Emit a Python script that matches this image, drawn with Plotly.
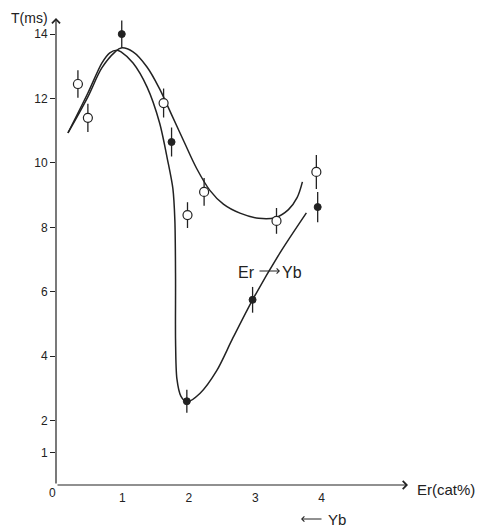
import plotly.graph_objects as go

# ---- data ----
# measured points (open circles)
open_x = [0.33, 0.48, 1.62, 1.98, 2.23, 3.32, 3.92]
open_y = [12.45, 11.4, 11.86, 8.38, 9.1, 8.2, 9.72]
open_err = [0.43, 0.44, 0.45, 0.4, 0.43, 0.4, 0.53]

# measured points (filled circles)
fill_x = [0.99, 1.74, 1.97, 2.96, 3.94]
fill_y = [14.0, 10.65, 2.6, 5.75, 8.63]
fill_err = [0.42, 0.45, 0.36, 0.4, 0.47]

# hand-drawn fit curve through the open circles
fitA_x = [0.18, 0.48, 0.69, 0.89, 0.98, 1.16, 1.37, 1.56, 1.74, 1.93, 2.12, 2.32,
          2.52, 2.77, 3.05, 3.3, 3.5, 3.63, 3.71]
fitA_y = [10.93, 12.05, 12.95, 13.45, 13.57, 13.45, 12.98, 12.3, 11.5, 10.65, 9.82, 9.14,
          8.72, 8.44, 8.28, 8.3, 8.55, 8.92, 9.41]

# hand-drawn fit curve through the filled circles
fitB_x = [0.18, 0.48, 0.69, 0.81, 0.92, 0.98, 1.16, 1.37, 1.56, 1.68, 1.76, 1.79,
          1.80, 1.80, 1.82, 1.88, 1.97, 2.17, 2.42, 2.66, 2.96, 3.37, 3.77]
fitB_y = [10.93, 12.17, 13.1, 13.42, 13.5, 13.45, 13.1, 12.36, 11.24, 10.09, 9.2, 8.2,
          6.4, 4.5, 3.3, 2.76, 2.58, 2.85, 3.55, 4.55, 5.75, 7.2, 8.45]

y_ticks = [1, 2, 4, 6, 8, 10, 12, 14]
x_ticks = [1, 2, 3, 4]

INK = "#222222"
FONT = "Liberation Sans, Arial, sans-serif"

fig = go.Figure()

fig.add_trace(go.Scatter(x=fitA_x, y=fitA_y, mode="lines",
                         line=dict(color=INK, width=1.5, shape="spline", smoothing=1.0),
                         hoverinfo="skip"))
fig.add_trace(go.Scatter(x=fitB_x, y=fitB_y, mode="lines",
                         line=dict(color=INK, width=1.5, shape="spline", smoothing=0.8),
                         hoverinfo="skip"))

fig.add_trace(go.Scatter(x=open_x, y=open_y, mode="markers",
                         marker=dict(symbol="circle", size=9, color="white",
                                     line=dict(color=INK, width=1.2)),
                         error_y=dict(type="data", array=open_err, color=INK,
                                      thickness=1.3, width=0)))
fig.add_trace(go.Scatter(x=fill_x, y=fill_y, mode="markers",
                         marker=dict(symbol="circle", size=7, color=INK,
                                     line=dict(color=INK, width=1)),
                         error_y=dict(type="data", array=fill_err, color=INK,
                                      thickness=1.3, width=0)))

X0, X1 = 0.0, 5.3
Y0, Y1 = 0.0, 14.5

# axis arrows
fig.add_annotation(x=X1, y=0, ax=0, ay=0, xref="x", yref="y", axref="x", ayref="y",
                   showarrow=True, arrowhead=4, arrowsize=1.3, arrowwidth=1.2,
                   arrowcolor=INK, standoff=0, startstandoff=0, text="")
fig.add_annotation(x=0, y=Y1, ax=0, ay=0, xref="x", yref="y", axref="x", ayref="y",
                   showarrow=True, arrowhead=4, arrowsize=1.3, arrowwidth=1.2,
                   arrowcolor=INK, standoff=0, startstandoff=0, text="")

# page-pixel -> plot-domain conversion (plot area spans 56..408 x 18..485 on the page)
def px2dom(px, py):
    return (px - 56) / 352.0, (485 - py) / 467.0

def label(px, py, text, size=16, xanchor="left"):
    xp, yp = px2dom(px, py)
    fig.add_annotation(x=xp, y=yp, xref="x domain", yref="y domain", text=text,
                       showarrow=False, xanchor=xanchor, yanchor="middle",
                       font=dict(family=FONT, size=size, color=INK))

label(9, 18, "T(ms)", 14)
label(415, 489, "Er(cat%)", 15)
label(52, 493, "0", 12, xanchor="center")
label(236, 272, "Er", 16)
label(280, 272, "Yb", 16)
label(326, 519, "Yb", 15)

# small arrows in the labels
def small_arrow(px_tail, px_head, py):
    xt, yt = px2dom(px_tail, py)
    xh, yh = px2dom(px_head, py)
    fig.add_annotation(x=xh, y=yh, ax=xt, ay=yt, xref="x domain", yref="y domain",
                       axref="x domain", ayref="y domain", text="", showarrow=True,
                       arrowhead=4, arrowsize=1.0, arrowwidth=1.0, arrowcolor=INK,
                       standoff=0, startstandoff=0)

small_arrow(258, 280, 271)
small_arrow(323, 301, 519)

# the page body adds an 8px margin, so the figure is drawn 8px smaller / shifted
fig.update_layout(
    width=475, height=522,
    margin=dict(l=48, r=75, t=10, b=45),
    paper_bgcolor="white", plot_bgcolor="white",
    showlegend=False,
    font=dict(family=FONT, color=INK),
    xaxis=dict(range=[X0, X1], showgrid=False, zeroline=False, showline=False,
               tickvals=x_ticks, ticktext=[str(v) for v in x_ticks],
               ticks="", tickfont=dict(size=12, color=INK), ticklabelstandoff=4),
    yaxis=dict(range=[Y0, Y1], showgrid=False, zeroline=False, showline=False,
               tickvals=y_ticks, ticktext=[str(v) for v in y_ticks],
               ticks="outside", ticklen=5, tickwidth=1, tickcolor=INK,
               tickfont=dict(size=12, color=INK)),
)

fig.write_html("out.html")
